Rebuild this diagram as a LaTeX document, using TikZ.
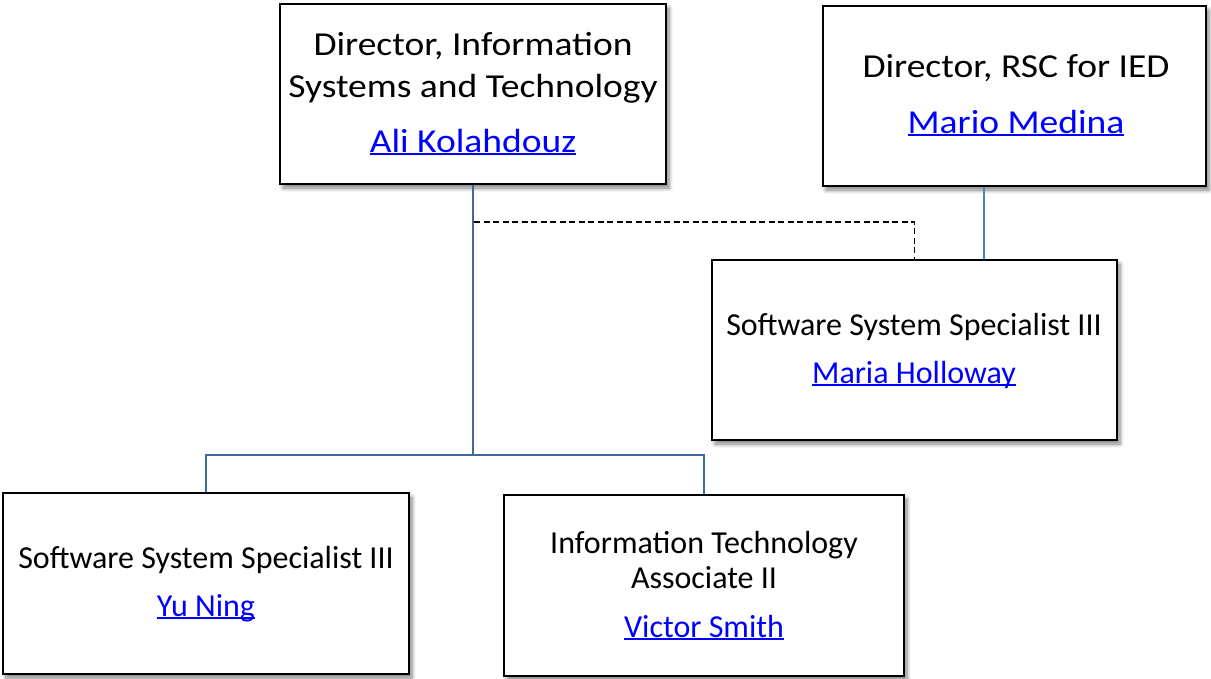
\documentclass[tikz,border=0pt]{standalone}
\usepackage{fontspec}
\setmainfont{Carlito}
\newfontfamily\widefont{Carlito}[FakeStretch=1.12]
\usetikzlibrary{shadows.blur}
\definecolor{linkblue}{RGB}{0,0,255}
\definecolor{treeblue}{RGB}{64,104,152}
\definecolor{lightblue}{RGB}{79,129,189}
\newcommand{\linktext}[1]{\textcolor{linkblue}{\setbox0\hbox{#1}\rlap{\rule[-0.1em]{\wd0}{0.07em}}\box0}}
\tikzset{
  orgbox/.style={draw=black, line width=2pt, fill=white, inner sep=0pt,
    blur shadow={shadow xshift=3pt, shadow yshift=-4pt, shadow blur steps=6, shadow blur radius=4pt, shadow opacity=50}},
  bigtxt/.style={anchor=base, inner sep=0pt, font=\widefont\fontsize{33.5}{41}\selectfont},
  smalltxt/.style={anchor=base, inner sep=0pt, font=\fontsize{32}{35}\selectfont},
  treeline/.style={draw=treeblue, line width=2.2pt},
  rscline/.style={draw=lightblue, line width=1.8pt},
  dotted link/.style={draw=black, line width=1.5pt, dash pattern=on 6pt off 3.5pt}
}
\begin{document}
\begin{tikzpicture}[x=1pt,y=-1pt]
\useasboundingbox (0,0) rectangle (1211,678);
% boxes
\node[orgbox, minimum width=386pt, minimum height=180pt] (A) at (473,94) {};
\node[orgbox, minimum width=383pt, minimum height=180pt] (B) at (1014.5,96) {};
\node[orgbox, minimum width=405pt, minimum height=180pt] (C) at (914.5,350) {};
\node[orgbox, minimum width=406pt, minimum height=181pt] (D) at (206,583.5) {};
\node[orgbox, minimum width=400pt, minimum height=181pt] (E) at (704,585.5) {};
% texts
\node[bigtxt] (A1) at (473,55) {Director, Information};
\node[bigtxt] (A2) at (473,97) {Systems and Technology};
\node[bigtxt] (A3) at (473,152) {\linktext{Ali Kolahdouz}};
\node[bigtxt] (B1) at (1016,77) {Director, RSC for IED};
\node[bigtxt] (B2) at (1016,133) {\linktext{Mario Medina}};
\node[smalltxt] (C1) at (914,335) {Software System Specialist III};
\node[smalltxt] (C2) at (914,383) {\linktext{Maria Holloway}};
\node[smalltxt] (D1) at (206,568) {Software System Specialist III};
\node[smalltxt] (D2) at (206,616) {\linktext{Yu Ning}};
\node[smalltxt] (E1) at (704,553) {Information Technology};
\node[smalltxt] (E2) at (704,588) {Associate II};
\node[smalltxt] (E3) at (704,637) {\linktext{Victor Smith}};
% connectors
\coordinate (j) at (473,455);
\coordinate (dstart) at (474,222);
\coordinate (rx) at (984,0);
\draw[dotted link] (dstart) -| (C.north);
\draw[treeline] (A.south) -- (j);
\draw[treeline] (j) -| (D.north);
\draw[treeline] (j) -| (E.north);
\draw[rscline] (B.south -| rx) -- (C.north -| rx);
\end{tikzpicture}
\end{document}
